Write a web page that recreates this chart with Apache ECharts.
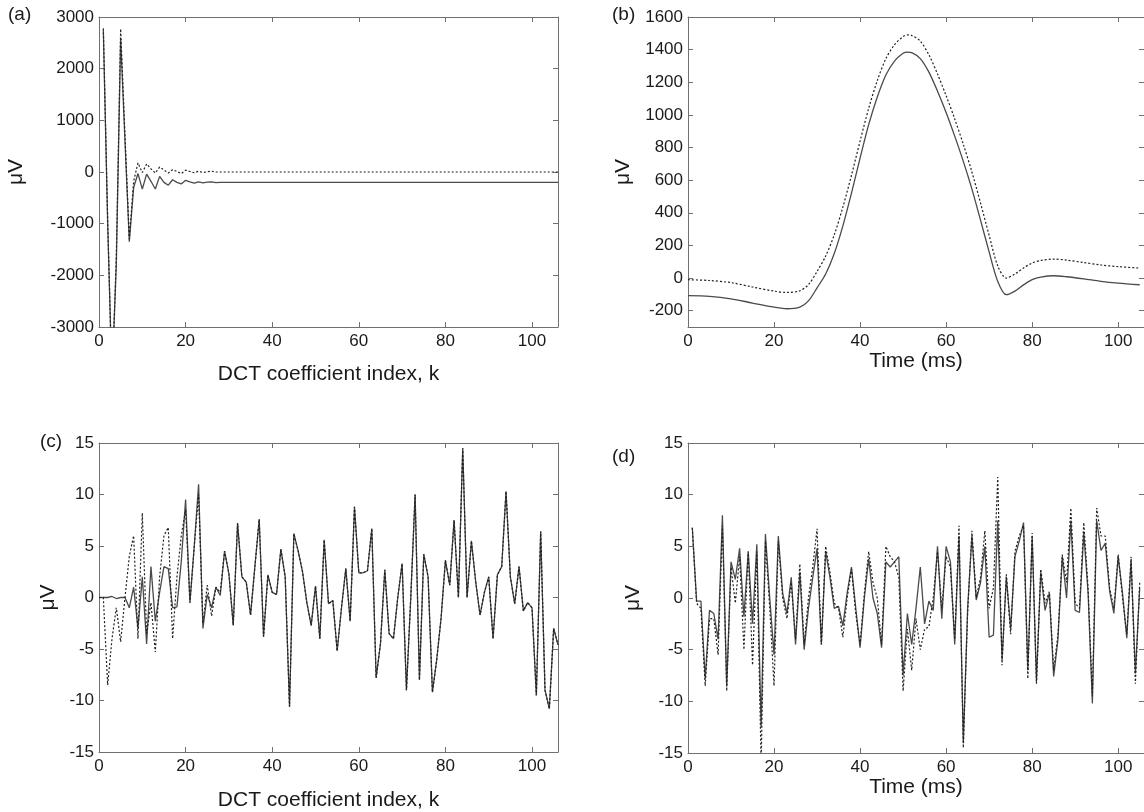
<!DOCTYPE html>
<html><head><meta charset="utf-8">
<script src="https://cdn.jsdelivr.net/npm/echarts@6/dist/echarts.min.js"></script>
<style>html,body{margin:0;padding:0;background:#fff}#c{width:1144px;height:812px}</style>
</head><body><div id="c"></div><script>
// ---------- tick labels ----------
const xTicks = [0, 20, 40, 60, 80, 100];
const yTicksA = [-3000, -2000, -1000, 0, 1000, 2000, 3000];
const yTicksB = [-200, 0, 200, 400, 600, 800, 1000, 1200, 1400, 1600];
const yTicksCD = [-15, -10, -5, 0, 5, 10, 15];

// ---------- (a) DCT coefficients ----------
const kA = [1,2,3,4,5,6,7,8,9,10,11,12,13,14,15,16,17,18,19,20,21,22,23,24,25,26,27,28,106];
const aSolid = [2750,-1000,-4000,-1800,2580,600,-1350,-300,-30,-330,-40,-180,-330,-85,-200,-255,-150,-200,-230,-160,-190,-215,-190,-210,-195,-190,-205,-200,-200];
const aDotted = [2780,-900,-4100,-1600,2770,700,-1300,-180,175,-10,155,60,-20,95,40,-20,45,10,-30,35,10,-15,15,-10,5,15,0,0,0];

// ---------- (b) time signals ----------
const tB = [0,5,10,15,20,23,26,28,30,32,34,36,38,40,42,44,46,48,50,51,52,54,56,58,60,62,64,66,68,70,72,74,76,78,80,82,85,88,92,96,100,105];
const bSolid = [-108,-112,-127,-153,-178,-188,-178,-140,-60,25,150,320,520,735,940,1110,1245,1330,1378,1385,1382,1345,1262,1145,1015,870,715,545,355,160,-20,-102,-80,-42,-10,6,14,8,-5,-20,-31,-41];
const bDotted = [-10,-15,-28,-55,-80,-88,-78,-40,40,135,265,435,630,840,1040,1210,1345,1430,1480,1490,1487,1452,1368,1250,1118,975,820,650,460,262,75,0,25,62,92,108,116,110,95,80,70,61];

// ---------- (c) DCT residual, k = 0..106 ----------
const cSolid = [0,0,0,0.1,-0.1,0,0,-1,1,-3,2,-4.5,3,-2.3,0.5,3,2.8,-1,-0.9,3.5,9.5,-0.5,5,11,-3,0.3,-1,1,0.2,
  4.5,2.3,-2.7,7.2,2,1.5,-1.7,3,7.6,-3.8,2.2,0.5,0.3,4.7,2,-10.6,6.2,4.5,2.5,-0.5,-2.7,1.1,-4,5.6,-0.6,-0.3,-5.2,-1,2.8,-2.3,8.8,
  2.4,2.4,2.6,6.7,-7.8,-4.5,2.7,-3.5,-4,0,3.3,-9,0,10,-8,4.2,2,-9.2,-6,-2,3.6,1.2,7.5,0,14.5,0,5.5,1.5,-1.7,0.5,
  2,-4,2.2,3,10.3,2,-0.6,3,-1.3,-0.5,-1,-9.5,6.4,-9,-10.8,-3,-4.6];
const cDotted = [0,0,-8.5,-4,-1,-4.3,0,4,6,-4,8.2,-3.5,-0.5,-5.3,2,6,6.8,-4,2,6,8.5,-0.5,5,10,-2.5,1.2,-1.8,1,0.5,
  4.5,2.3,-2.7,7.2,2,1.5,-1.7,3,7.6,-3.8,2.2,0.5,0.3,4.7,2,-10.6,6.2,4.5,2.5,-0.5,-2.7,1.1,-4,5.6,-0.6,-0.3,-5.2,-1,2.8,-2.3,8.8,
  2.4,2.4,2.6,6.7,-7.8,-4.5,2.7,-3.5,-4,0,3.3,-9,0,10,-8,4.2,2,-9.2,-6,-2,3.6,1.2,7.5,0,14.5,0,5.5,1.5,-1.7,0.5,
  2,-4,2.2,3,10.3,2,-0.6,3,-1.3,-0.5,-1,-9.5,6.4,-9,-10.8,-3,-4.6];

// ---------- (d) time residual, t = 1..105 ----------
const dSolid = [6.8,-0.3,-0.3,-7.8,-1.2,-1.5,-4,8,-8.5,3.5,1.8,4.8,-1.8,4.5,-2.5,5.2,-12.5,6.2,0,-5.5,
  6,0.5,-1.5,2,-4.5,2.5,-5,-1,2,4.8,-4.5,4.5,2,-1,-0.8,-2.7,0.5,3,-1,-4.8,
  0,3.8,0,-1.5,-4.8,3.5,3,3.5,4,-7.5,-1.5,-4.5,-1,3,-2.5,-0.3,-1.2,5,-2,5,
  3.5,-4.5,6,-14,-1,6,-0.2,1.5,5,-3.8,-3.6,7.5,-6,2,-3,4,5.5,7.3,-7,6,
  -8,2.5,-1.2,0.5,-7.6,-4,4,0,7.5,-1.2,-1.4,6.3,0.5,-10.2,7.5,4.6,5.3,0.7,-1.5,4,
  0.5,-3.9,3.6,-7.3,1];
const dDotted = [6.8,-0.5,-1,-8.5,-2,-2,-5.5,7,-9,3,-0.5,4,-5,4.5,-6.5,4.5,-16,5.5,-1,-8.5,
  5.5,0,-2,1.5,-4,3.3,-4.5,0,3,6.7,-4.5,5,2.5,-0.5,-1,-3.8,0,2.8,-1.5,-4.5,
  0.5,4.5,1.5,0,-4.5,5,4,3.5,2,-9,-3,-7,-2,-5,-3,-2.8,0,4.5,-1,4,
  3,-4,7,-14.5,-1.5,6.5,0,2,6.5,-1,1,11.7,-6.5,2.3,-3.5,4.5,6,7,-7.8,6.3,
  -8.3,2.8,-0.5,0.6,-7,-3.5,4.2,1.5,8.7,-0.5,-1,7.3,1,-9.5,8.7,6,6,1,-1,4.2,
  0,-3.5,4,-8.3,1.5];

const FONT = "'Liberation Sans', Arial, sans-serif";
const AXC = '#707070';
const TXT = '#1a1a1a';

const grids = [
  {left: 99, top: 17, width: 459, height: 310},
  {left: 688, top: 17, width: 459, height: 310},
  {left: 99, top: 443, width: 459, height: 310},
  {left: 688, top: 443, width: 459, height: 310}
];
const yRanges = [[-3000, 3000, yTicksA], [-300, 1600, yTicksB], [-15, 15, yTicksCD], [-15, 15, yTicksCD]];
const xNames = ['DCT coefficient index, k', 'Time (ms)', 'DCT coefficient index, k', 'Time (ms)'];
const xNameGaps = [37, 24, 38, 24];
const yNameGaps = [72, 54, 40, 44];

const plain = v => String(v);
const xAxis = [], yAxis = [];
grids.forEach((g, i) => {
  const base = {
    type: 'value', gridIndex: i, min: 0, max: 106,
    axisLine: {show: true, onZero: false, lineStyle: {color: AXC, width: 1}},
    splitLine: {show: false}
  };
  xAxis.push(Object.assign({}, base, {
    position: 'bottom',
    name: xNames[i], nameLocation: 'middle', nameGap: xNameGaps[i],
    nameTextStyle: {fontSize: 21, color: TXT, fontFamily: FONT},
    axisTick: {show: true, inside: true, length: 5, customValues: xTicks, lineStyle: {color: AXC}},
    axisLabel: {show: true, customValues: xTicks, formatter: plain, fontSize: 17, color: TXT, fontFamily: FONT, margin: 6}
  }));
  xAxis.push(Object.assign({}, base, {
    position: 'top',
    axisTick: {show: true, inside: true, length: 5, customValues: xTicks, lineStyle: {color: AXC}},
    axisLabel: {show: false}
  }));
  const [ymin, ymax, yt] = yRanges[i];
  const ybase = {
    type: 'value', gridIndex: i, min: ymin, max: ymax,
    axisLine: {show: true, onZero: false, lineStyle: {color: AXC, width: 1}},
    splitLine: {show: false}
  };
  yAxis.push(Object.assign({}, ybase, {
    position: 'left',
    name: 'μV', nameLocation: 'middle', nameGap: yNameGaps[i],
    nameTextStyle: {fontSize: 21, color: TXT, fontFamily: FONT},
    axisTick: {show: true, inside: true, length: 5, customValues: yt, lineStyle: {color: AXC}},
    axisLabel: {show: true, customValues: yt, formatter: plain, fontSize: 17, color: TXT, fontFamily: FONT, margin: 5}
  }));
  yAxis.push(Object.assign({}, ybase, {
    position: 'right',
    axisTick: {show: true, inside: true, length: 5, customValues: yt, lineStyle: {color: AXC}},
    axisLabel: {show: false}
  }));
});

function pairs(xs, ys) { return ys.map((v, i) => [xs[i], v]); }
function idx(ys, start) { return ys.map((v, i) => [i + start, v]); }

const SOLID = {color: '#4a4a4a', width: 1.3, type: 'solid'};
const DOT = {color: '#202020', width: 1.2, type: [2, 2]};

function line(gi, data, style, z) {
  return {type: 'line', xAxisIndex: gi * 2, yAxisIndex: gi * 2, data: data, showSymbol: false,
    symbol: 'none', clip: true, lineStyle: style, z: z, animation: false};
}

const series = [
  line(0, pairs(kA, aSolid), SOLID, 2),
  line(0, pairs(kA, aDotted), DOT, 3),
  Object.assign(line(1, pairs(tB, bSolid), SOLID, 2), {smooth: 0.3}),
  Object.assign(line(1, pairs(tB, bDotted), DOT, 3), {smooth: 0.3}),
  line(2, idx(cSolid, 0), SOLID, 2),
  line(2, idx(cDotted, 0), DOT, 3),
  line(3, idx(dSolid, 1), SOLID, 2),
  line(3, idx(dDotted, 1), DOT, 3)
];

const panelLabels = [['(a)', 8, 16], ['(b)', 612, 16], ['(c)', 40, 443], ['(d)', 612, 458]];
const graphic = panelLabels.map(([t, x, y]) => ({
  type: 'text', left: x, top: y - 11,
  style: {text: t, fontSize: 19, fill: TXT, fontFamily: FONT}
}));

const chart = echarts.init(document.getElementById('c'), null, {renderer: 'canvas'});
chart.setOption({
  animation: false,
  backgroundColor: '#ffffff',
  grid: grids.map(g => Object.assign({containLabel: false}, g)),
  xAxis: xAxis, yAxis: yAxis, series: series, graphic: graphic
});
</script></body></html>
